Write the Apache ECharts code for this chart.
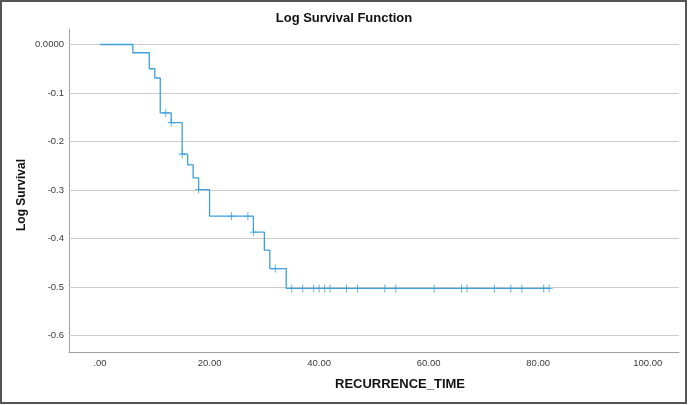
<!DOCTYPE html>
<html>
<head>
<meta charset="utf-8">
<script src="https://cdn.jsdelivr.net/npm/echarts@6/dist/echarts.min.js"></script>
<style>
html,body{margin:0;padding:0;background:#fff;}
#chart{width:688px;height:405px;}
</style>
</head>
<body>
<div id="chart"></div>
<script>
// Step points of the log survival curve (time, value from that time on)
const stepTimes = [0, 6, 9, 10, 11, 13, 15, 16, 17, 18, 20, 28, 30, 31, 34, 82];
const stepLogSurvival = [0, -0.017, -0.050, -0.069, -0.141, -0.161, -0.226, -0.248, -0.275, -0.299, -0.354, -0.387, -0.424, -0.462, -0.503, -0.503];
// Censored observation times
const censorTimes = [12, 13, 15, 18, 24, 27, 28, 32, 35, 37, 39, 40, 41, 42, 45, 47, 52, 54, 61, 66, 67, 72, 75, 77, 81, 82];
// Tick values and labels
const xTickValues = [0, 20, 40, 60, 80, 100];
const xTickLabels = ['.00', '20.00', '40.00', '60.00', '80.00', '100.00'];
const yTickValues = [0, -0.1, -0.2, -0.3, -0.4, -0.5, -0.6];
const yTickLabels = ['0.0000', '-0.1', '-0.2', '-0.3', '-0.4', '-0.5', '-0.6'];

const chartTitle = 'Log Survival Function';
const xTitle = 'RECURRENCE_TIME';
const yTitle = 'Log Survival';

const blue = '#3d9fde';
const font = '"Liberation Sans", Arial, sans-serif';

function valueAt(t) {
  let v = stepLogSurvival[0];
  for (let i = 0; i < stepTimes.length; i++) {
    if (stepTimes[i] <= t) v = stepLogSurvival[i];
  }
  return v;
}
function lookup(vals, labels, v) {
  for (let i = 0; i < vals.length; i++) if (Math.abs(vals[i] - v) < 1e-9) return labels[i];
  return '';
}

const curveData = stepTimes.map((t, i) => [t, stepLogSurvival[i]]);
const censorData = censorTimes.map(t => [t, valueAt(t)]);

const chart = echarts.init(document.getElementById('chart'));
chart.setOption({
  animation: false,
  backgroundColor: '#fff',
  grid: { left: 69, right: 9, top: 29, bottom: 53 },
  xAxis: {
    type: 'value', min: -5.66, max: 105.7,
    axisLine: { show: true, onZero: false, lineStyle: { color: '#a0a0a0', width: 1 } },
    axisTick: { show: false },
    splitLine: { show: false },
    axisLabel: {
      customValues: xTickValues,
      formatter: v => lookup(xTickValues, xTickLabels, v),
      color: '#3a3a3a', fontSize: 9.5, fontFamily: font, margin: 6
    }
  },
  yAxis: {
    type: 'value', min: -0.634, max: 0.032,
    axisLine: { show: true, onZero: false, lineStyle: { color: '#a0a0a0', width: 1 } },
    axisTick: { show: false },
    splitLine: { show: false },
    axisLabel: {
      customValues: yTickValues,
      formatter: v => lookup(yTickValues, yTickLabels, v),
      color: '#3a3a3a', fontSize: 9.5, fontFamily: font, margin: 5
    }
  },
  series: [
    {
      type: 'line',
      data: [],
      silent: true,
      z: 1,
      markLine: {
        silent: true,
        z: 1,
        symbol: 'none',
        label: { show: false },
        lineStyle: { color: '#cdcdcd', type: 'solid', width: 1 },
        data: yTickValues.map(v => ({ yAxis: v }))
      }
    },
    {
      type: 'line',
      data: curveData,
      step: 'end',
      showSymbol: false,
      symbol: 'none',
      lineStyle: { color: blue, width: 1.3 },
      z: 10
    },
    {
      type: 'scatter',
      data: censorData,
      symbol: 'path://M3,0h1v3h3v1h-3v3h-1v-3h-3v-1h3z',
      symbolSize: [7, 8],
      itemStyle: { color: blue },
      z: 11
    }
  ],
  graphic: [
    {
      type: 'rect', silent: true,
      shape: { x: 1, y: 1, width: 685, height: 402 },
      style: { fill: 'none', stroke: '#555', lineWidth: 2 }
    },
    {
      type: 'text', x: 344, y: 18,
      style: { text: chartTitle, font: 'bold 13px ' + font, fill: '#111', textAlign: 'center', textVerticalAlign: 'middle' }
    },
    {
      type: 'text', x: 400, y: 384,
      style: { text: xTitle, font: 'bold 13px ' + font, fill: '#111', textAlign: 'center', textVerticalAlign: 'middle' }
    },
    {
      type: 'text', x: 22, y: 195, rotation: Math.PI / 2,
      style: { text: yTitle, font: 'bold 12px ' + font, fill: '#111', textAlign: 'center', textVerticalAlign: 'middle' }
    }
  ]
});
</script>
</body>
</html>
